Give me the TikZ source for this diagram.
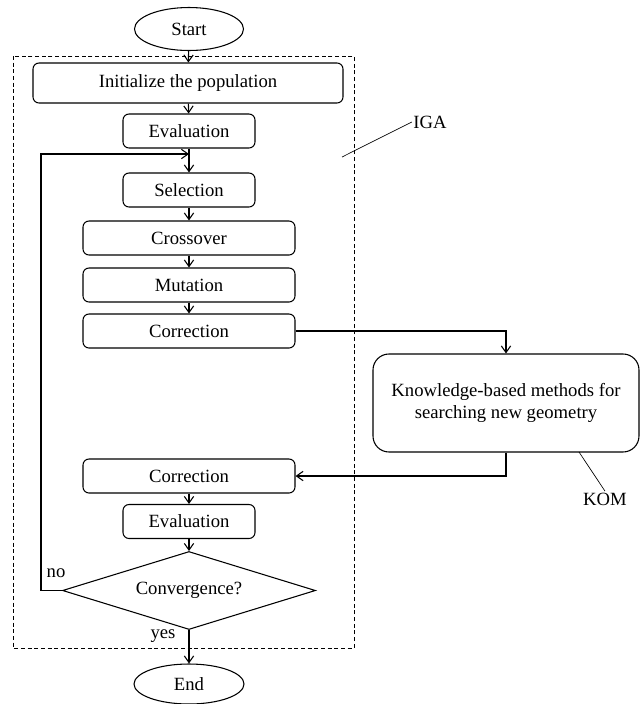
\documentclass[tikz,border=0pt]{standalone}
\usepackage{fontspec}
\setmainfont{Liberation Serif}
\usetikzlibrary{arrows.meta,shapes.geometric}

\begin{document}
\begin{tikzpicture}[x=0.75pt,y=-0.75pt,font=\fontsize{14}{17}\selectfont,
  box/.style={draw,rounded corners=4.5pt,line width=0.8pt,minimum height=25.5pt,inner sep=0pt},
  term/.style={draw,ellipse,line width=0.8pt,inner sep=0pt},
  flow/.style={-{Straight Barb[length=5pt,width=7pt]},line width=0.8pt},
  tag/.style={inner sep=1pt}]
\useasboundingbox (0,0) rectangle (640,704);
\draw[line width=0.5pt,dash pattern=on 3pt off 2pt] (13,56) rectangle (354,648);
\node[term,minimum width=81.75pt,minimum height=32.25pt] (start) at (189,29) {Start};
\node[box,minimum width=232.5pt,minimum height=30pt] (init) at (188,83) {Initialize the population};
\node[box,minimum width=99pt] (eval1) at (189,131) {Evaluation};
\node[box,minimum width=99pt] (sel) at (189,190) {Selection};
\node[box,minimum width=159pt] (cross) at (189,238) {Crossover};
\node[box,minimum width=159pt] (mut) at (189,285) {Mutation};
\node[box,minimum width=159pt] (corr1) at (189,331) {Correction};
\node[box,rounded corners=12pt,minimum width=199.5pt,minimum height=73.5pt,align=center] (kom) at (506,403) {Knowledge-based methods for\\searching new geometry};
\node[box,minimum width=159pt] (corr2) at (189,476) {Correction};
\node[box,minimum width=99pt] (eval2) at (189,521.5) {Evaluation};
\node[draw,diamond,aspect=3.24,line width=0.8pt,inner sep=0pt,minimum width=189.75pt,minimum height=58.5pt] (conv) at (189,590.5) {Convergence?};
\node[term,minimum width=82.5pt,minimum height=30pt] (end) at (189,684) {End};
\node[tag] (iga) at (430,122) {IGA};
\node[tag] (komlab) at (605,499) {KOM};
\node[tag] (nolab) at (56,573) {no};
\node[tag] (yeslab) at (163,636) {yes};
\coordinate (merge) at (189,154);
\coordinate (back) at (41,590.5);
\coordinate (igatip) at (342,157);
\coordinate (komtip) at (579,452);
\draw[flow] (start) -- (init);
\draw[flow] (init) -- (eval1);
\draw[flow] (eval1) -- (sel);
\draw[flow] (sel) -- (cross);
\draw[flow] (cross) -- (mut);
\draw[flow] (mut) -- (corr1);
\draw[flow] (corr1.east) -| (kom.north);
\draw[flow] (kom.south) |- (corr2.east);
\draw[flow] (corr2) -- (eval2);
\draw[flow] (eval2) -- (conv);
\draw[flow] (conv.south) -- (end.north);
\draw[flow] (conv.west) -- (back) |- (merge);
\draw[line width=0.5pt] (iga.west) -- (igatip);
\draw[line width=0.5pt] (komlab.north) -- (komtip);
\end{tikzpicture}
\end{document}
